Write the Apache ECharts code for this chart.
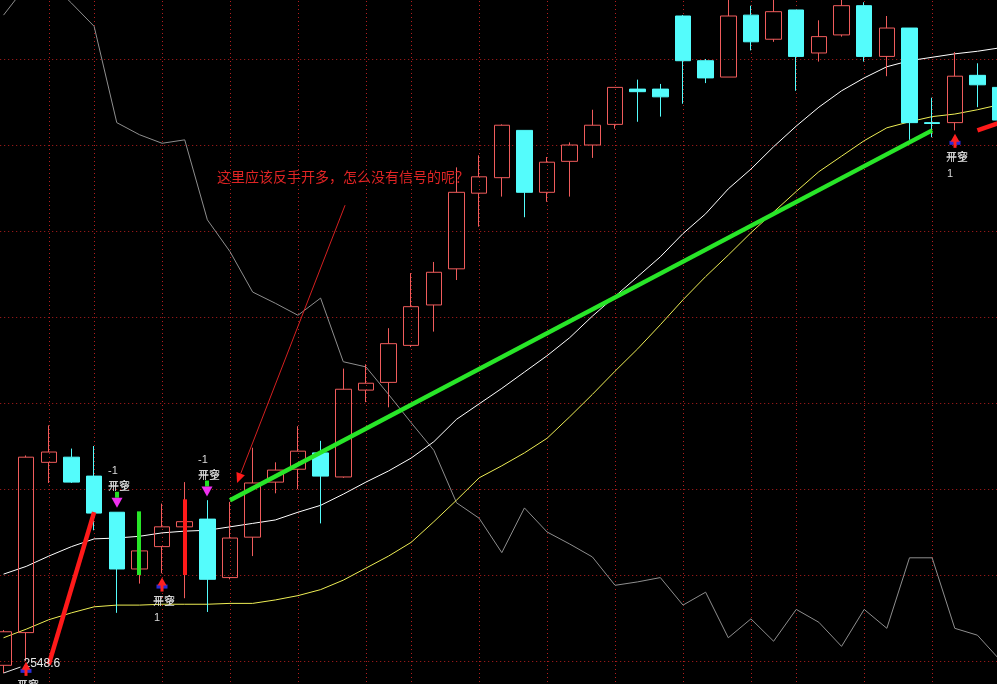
<!DOCTYPE html>
<html>
<head>
<meta charset="utf-8">
<title>K线</title>
<script src="https://cdn.jsdelivr.net/npm/echarts@6/dist/echarts.min.js"></script>
<style>
html, body { margin:0; padding:0; background:#000; overflow:hidden; }
#chart { width:997px; height:684px; }
</style>
</head>
<body>
<div id="chart"></div>
<script>
// ---------------- data ----------------
const categories = ['1','2','3','4','5','6','7','8','9','10','11','12','13','14','15','16','17','18','19','20','21','22','23','24','25','26','27','28','29','30','31','32','33','34','35','36','37','38','39','40','41','42','43','44','45'];

const openVals  = [2549.5,2553.3,2573.1,2573.7,2571.5,2567.3,2560.7,2563.3,2565.6,2566.5,2559.7,2564.4,2570.8,2572.3,2574.2,2571.4,2581.5,2582.4,2586.7,2591.4,2595.6,2604.4,2606.2,2611.7,2604.5,2608.1,2610.0,2612.4,2616.5,2616.5,2625.0,2619.8,2617.9,2625.1,2622.3,2625.7,2620.7,2622.8,2626.2,2620.3,2623.6,2612.6,2612.6,2618.1,2616.7];
const closeVals = [2553.4,2573.7,2574.3,2570.8,2567.2,2560.7,2562.8,2565.6,2566.2,2559.5,2564.3,2570.7,2572.2,2574.4,2571.5,2581.6,2582.3,2586.9,2591.2,2595.2,2604.5,2606.3,2612.3,2604.5,2608.0,2610.0,2612.3,2616.7,2616.2,2615.6,2619.8,2617.8,2625.0,2622.0,2625.5,2620.3,2622.6,2626.2,2620.3,2623.6,2612.6,2612.5,2618.0,2617.0,2612.9];
const lowVals   = [2548.6,2550.0,2570.7,2570.7,2565.2,2555.6,2559.0,2560.2,2557.3,2555.7,2559.5,2562.2,2569.5,2570.0,2566.0,2571.3,2580.1,2579.5,2586.5,2588.3,2594.3,2600.5,2604.0,2601.6,2603.4,2604.0,2608.5,2611.9,2612.7,2613.3,2614.8,2617.2,2617.9,2621.0,2622.0,2616.3,2619.7,2622.6,2619.7,2618.0,2610.6,2610.9,2611.7,2614.4,2612.3];
const highVals  = [2553.6,2573.9,2577.4,2574.7,2575.0,2567.3,2567.0,2568.3,2570.8,2568.7,2568.5,2574.8,2573.1,2577.3,2575.6,2584.0,2584.5,2588.7,2595.1,2596.4,2607.4,2608.8,2612.4,2611.7,2608.6,2610.3,2614.1,2616.7,2617.6,2617.1,2625.1,2620.0,2627.2,2626.2,2627.2,2625.7,2624.5,2627.2,2626.6,2625.0,2623.6,2615.5,2620.8,2619.5,2617.6];

const maWhite  = [2560.1,2561.0,2562.2,2563.3,2564.2,2564.3,2564.5,2564.9,2565.1,2565.2,2565.6,2566.0,2566.4,2567.3,2568.1,2569.4,2570.8,2572.1,2573.6,2575.5,2578.1,2579.9,2581.7,2583.6,2585.5,2587.6,2590.1,2592.4,2594.7,2597.0,2599.7,2602.0,2604.9,2607.2,2609.8,2612.2,2614.4,2616.3,2617.8,2619.1,2619.8,2620.2,2620.6,2620.9,2621.3];
const maYellow = [2552.7,2553.7,2554.8,2555.6,2556.3,2556.5,2556.5,2556.6,2556.6,2556.6,2556.7,2556.7,2557.1,2557.6,2558.3,2559.4,2560.8,2562.2,2563.8,2566.2,2568.7,2571.3,2572.7,2574.2,2575.9,2578.4,2581.0,2583.7,2586.3,2589.1,2592.0,2594.7,2597.2,2599.8,2602.2,2604.6,2606.9,2608.7,2610.5,2612.0,2612.7,2613.3,2613.6,2614.1,2614.7];
const grayLine = [2625.1,2628.5,2629.1,2626.5,2623.8,2612.6,2611.2,2610.2,2610.6,2601.3,2597.6,2592.9,2591.6,2590.2,2592.2,2584.8,2584.2,2581.0,2577.7,2574.5,2568.4,2566.6,2562.6,2567.8,2565.0,2563.6,2562.1,2558.8,2559.2,2559.7,2556.5,2558.0,2552.7,2554.9,2552.3,2556.0,2554.5,2551.7,2556.0,2553.8,2562.0,2562.0,2553.8,2553.0,2550.1];

// y-axis tick values (horizontal grid)
const yMin = 2540, yMax = 2630, yStep = 10;
// bars carrying a vertical grid line
const gridIdx = [2,4,7,10,13,16,18,21,24,27,30,33,35,38,41];

// thick drawn lines  [barIndex, price]
const redLine1  = [[2, 2549.6], [4, 2567.3]];
const greenLine = [[10, 2568.7], [41, 2611.7]];
const redLine2  = [[43, 2611.7], [44, 2612.6]];

// stick bars
const stickIdx  = [6, 8];
const stickLow  = [2560.0, 2560.0];
const stickHigh = [2567.4, 2568.8];
const stickKind = ['green', 'red'];

// signals
const shortIdx   = [5, 9];
const shortPrice = [2568.4, 2569.7];
const longIdx    = [1, 7, 42];
const longPrice  = [2549.9, 2559.7, 2611.3];

// annotation
const noteText = '这里应该反手开多，怎么没有信号的呢？';
const notePos  = [9.43, 2606.3];
const noteArrowFrom = [15.08, 2603.0];
const noteArrowTo   = [10.31, 2570.7];

// ---------------- styles ----------------
const GRID_COLOR = '#b41e1e';
const UP_COLOR = '#f05c5c';
const DOWN_COLOR = '#54fcfc';
const STICK_COLORS = { green: '#28e628', red: '#ff1a1a' };
const TXT = '#d8d8d8';
const CJK = '"Noto Sans CJK SC", sans-serif';

const candleData = openVals.map((o, i) => [o, closeVals[i], lowVals[i], highVals[i]]);

// lowest price label
let lowIdx = 0;
lowVals.forEach((v, i) => { if (v < lowVals[lowIdx]) lowIdx = i; });

function renderVGrid(params, api) {
  const cs = params.coordSys;
  const x = Math.round(api.coord([api.value(0), yMin + 50])[0]) + 0.5;
  return {
    type: 'line', silent: true,
    shape: { x1: x, y1: cs.y, x2: x, y2: cs.y + cs.height },
    style: { stroke: GRID_COLOR, lineWidth: 1, lineDash: [1, 3] }
  };
}

function renderStick(params, api) {
  const top = api.coord([api.value(0), api.value(2)]);
  const bot = api.coord([api.value(0), api.value(1)]);
  const x = Math.round(top[0]);
  return {
    type: 'rect',
    shape: { x: x - 2, y: top[1], width: 4, height: bot[1] - top[1] },
    style: { fill: STICK_COLORS[stickKind[params.dataIndex]] }
  };
}

function txt(text, x, y, font, fill, align) {
  return { type: 'text', style: { text: text, x: x, y: y, font: font, fill: fill, align: align || 'left', verticalAlign: 'middle' } };
}

function renderShort(params, api) {
  const p = api.coord([api.value(0), api.value(1)]);
  const x = Math.round(p[0]), y = p[1];
  const f = '11px ' + CJK;
  return { type: 'group', children: [
    { type: 'line', shape: { x1: x, y1: y - 11, x2: x, y2: y - 5 }, style: { stroke: '#22dd22', lineWidth: 4 } },
    { type: 'polygon', shape: { points: [[x - 5.5, y - 5], [x + 5.5, y - 5], [x, y + 5]] }, style: { fill: '#f030f0' } },
    txt('开空', x - 9, y - 17, f, TXT),
    txt('平多', x - 9, y - 17, f, TXT),
    txt('-1', x - 9, y - 32, '11px "Liberation Sans", sans-serif', TXT)
  ]};
}

function renderLong(params, api) {
  const p = api.coord([api.value(0), api.value(1)]);
  const x = Math.round(p[0]), y = p[1];
  const f = '11px ' + CJK;
  return { type: 'group', children: [
    { type: 'rect', shape: { x: x - 5.5, y: y + 7, width: 11, height: 4 }, style: { fill: '#2b2bd6' } },
    { type: 'polygon', shape: { points: [[x, y], [x - 4.5, y + 8], [x + 4.5, y + 8]] }, style: { fill: '#ff2020' } },
    { type: 'rect', shape: { x: x - 1.5, y: y + 7, width: 3, height: 7 }, style: { fill: '#ff2020' } },
    txt('平空', x - 9, y + 23, f, TXT),
    txt('开多', x - 9, y + 23, f, TXT),
    txt('1', x - 8, y + 40, '11px "Liberation Sans", sans-serif', TXT)
  ]};
}

function renderLowLabel(params, api) {
  const p = api.coord([api.value(0), api.value(1)]);
  const x = p[0], y = p[1];
  return { type: 'group', children: [
    { type: 'line', shape: { x1: x, y1: y, x2: x + 17, y2: y - 6 }, style: { stroke: '#e8e8e8', lineWidth: 1 } },
    txt(api.value(1).toFixed(1), x + 20, y - 9, '12px "Liberation Sans", sans-serif', '#e8e8e8')
  ]};
}

function renderNote(params, api) {
  const a = api.coord([api.value(0), api.value(1)]);
  const b = api.coord([api.value(2), api.value(3)]);
  const t = api.coord(notePos);
  const dx = b[0] - a[0], dy = b[1] - a[1];
  const len = Math.sqrt(dx * dx + dy * dy);
  const ux = dx / len, uy = dy / len;
  const hl = 10, hw = 4.5;
  const bx = b[0] - ux * hl, by = b[1] - uy * hl;
  return { type: 'group', children: [
    { type: 'line', shape: { x1: a[0], y1: a[1], x2: bx, y2: by }, style: { stroke: '#d42020', lineWidth: 1 } },
    { type: 'polygon', shape: { points: [[b[0], b[1]], [bx - uy * hw, by + ux * hw], [bx + uy * hw, by - ux * hw]] }, style: { fill: '#ff1a1a' } },
    txt(noteText, t[0], t[1], '14px ' + CJK, '#e02424')
  ]};
}

const thick = (data, color) => ({
  type: 'line', xAxisIndex: 1, yAxisIndex: 0, data: data, symbol: 'none', z: 4,
  lineStyle: { color: color, width: 4.5, cap: 'butt' }, silent: true
});

const chart = echarts.init(document.getElementById('chart'), null, { renderer: 'canvas' });
chart.setOption({
  backgroundColor: '#000000',
  animation: false,
  grid: { left: -7.8, right: -14.4, top: -27, bottom: -63, containLabel: false, outerBoundsMode: 'none' },
  xAxis: [
    { type: 'category', data: categories, boundaryGap: true,
      axisLine: { show: false }, axisTick: { show: false }, axisLabel: { show: false }, splitLine: { show: false } },
    { type: 'value', min: -0.5, max: categories.length - 0.5, show: false, splitLine: { show: false } }
  ],
  yAxis: {
    type: 'value', min: yMin, max: yMax, interval: yStep,
    axisLine: { show: false }, axisTick: { show: false }, axisLabel: { show: false },
    splitLine: { show: true, lineStyle: { color: GRID_COLOR, width: 1, type: [1, 3] } }
  },
  series: [
    { type: 'custom', xAxisIndex: 1, z: 0, silent: true, renderItem: renderVGrid,
      data: gridIdx.map(i => [i, yMin]) },
    { type: 'line', data: grayLine, symbol: 'none', z: 1, silent: true,
      lineStyle: { color: '#8e8e8e', width: 1 } },
    { type: 'line', data: maWhite, symbol: 'none', z: 2, silent: true,
      lineStyle: { color: '#ffffff', width: 1 } },
    { type: 'line', data: maYellow, symbol: 'none', z: 2, silent: true,
      lineStyle: { color: '#eeee55', width: 1 } },
    { type: 'candlestick', data: candleData, barWidth: 16, z: 3, silent: true,
      itemStyle: { color: 'rgba(0,0,0,0)', color0: DOWN_COLOR, borderColor: UP_COLOR, borderColor0: DOWN_COLOR, borderWidth: 1 } },
    { type: 'custom', xAxisIndex: 1, z: 4, silent: true, renderItem: renderStick,
      data: stickIdx.map((i, k) => [i, stickLow[k], stickHigh[k]]) },
    thick(redLine1, '#ff1a1a'),
    thick(greenLine, '#28e628'),
    thick(redLine2, '#ff1a1a'),
    { type: 'custom', xAxisIndex: 1, z: 5, silent: true, renderItem: renderLowLabel,
      data: [[lowIdx, lowVals[lowIdx]]] },
    { type: 'custom', xAxisIndex: 1, z: 6, silent: true, renderItem: renderShort,
      data: shortIdx.map((i, k) => [i, shortPrice[k]]) },
    { type: 'custom', xAxisIndex: 1, z: 6, silent: true, renderItem: renderLong,
      data: longIdx.map((i, k) => [i, longPrice[k]]) },
    { type: 'custom', xAxisIndex: 1, z: 7, silent: true, renderItem: renderNote,
      data: [[noteArrowFrom[0], noteArrowFrom[1], noteArrowTo[0], noteArrowTo[1]]] }
  ]
});
</script>
</body>
</html>
